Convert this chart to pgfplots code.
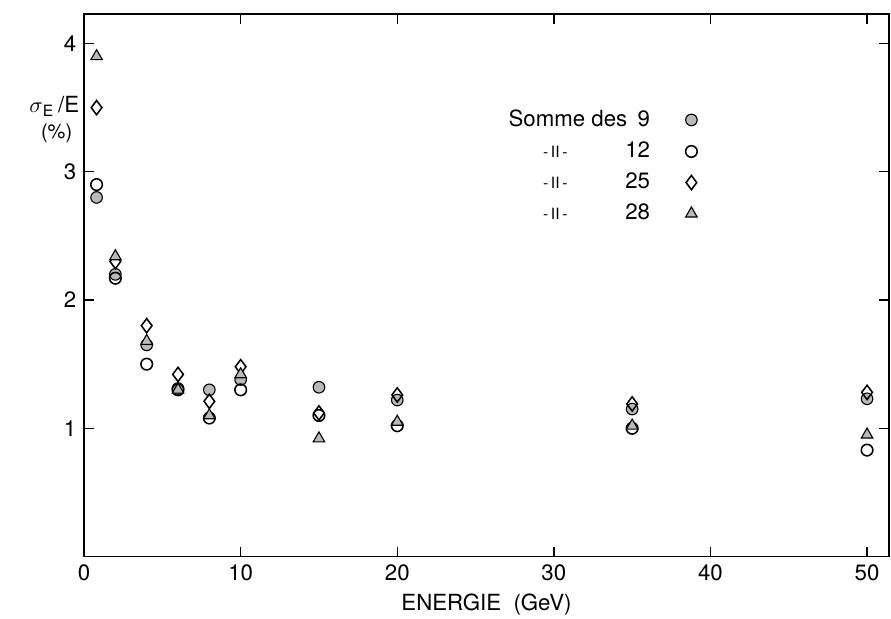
\documentclass[border=0pt]{standalone}
\usepackage{fontspec}
\setmainfont{TeX Gyre Heros}
\usepackage{pgfplots}
\pgfplotsset{compat=1.18}

% 1 px of the reference = 0.45pt
\begin{document}
\begin{tikzpicture}
\begin{axis}[
    name=ax,
    scale only axis,
    width=362pt, height=244pt,
    xmin=0, xmax=51.4,
    ymin=0, ymax=4.23,
    xtick={0,10,20,30,40,50},
    ytick={1,2,3,4},
    tick align=inside,
    major tick length=4.5pt,
    axis line style={line width=0.7pt},
    tick style={line width=0.6pt, black},
    /pgf/number format/assume math mode=true,
    tick label style={font=\fontsize{10}{12}\selectfont},
    xlabel={ENERGIE\ \ (GeV)},
    xlabel style={font=\fontsize{10}{12}\selectfont, yshift=1pt},
    clip=false,
    legend plot pos=right,
    legend cell align=right,
    legend style={draw=none, fill=none, font=\fontsize{10}{12}\selectfont,
        at={(axis cs:26.8,3.52)}, anchor=north west,
        row sep=1.4pt, inner sep=0pt},
]
\addplot[only marks, mark=*, mark size=2.6pt, mark options={draw=black, fill=gray!55, line width=0.5pt}]
  coordinates {(0.8,2.8) (2,2.2) (4,1.65) (6,1.31) (8,1.3) (10,1.38) (15,1.32) (20,1.22) (35,1.15) (50,1.23)};
\addplot[only marks, mark=o, mark size=2.6pt, mark options={draw=black, line width=0.7pt}]
  coordinates {(0.8,2.9) (2,2.17) (4,1.5) (6,1.3) (8,1.08) (10,1.3) (15,1.1) (20,1.02) (35,1.0) (50,0.83)};
\addplot[only marks, mark=diamond, mark size=3.2pt, mark options={draw=black, line width=0.7pt}]
  coordinates {(0.8,3.5) (2,2.3) (4,1.8) (6,1.42) (8,1.21) (10,1.48) (15,1.12) (20,1.26) (35,1.19) (50,1.28)};
\addplot[only marks, mark=triangle*, mark size=3pt, mark options={draw=black, fill=gray!55, line width=0.5pt}]
  coordinates {(0.8,3.9) (2,2.34) (4,1.68) (6,1.3) (8,1.1) (10,1.42) (15,0.92) (20,1.05) (35,1.02) (50,0.95)};
\legend{
  \makebox[42pt][l]{Somme des}\makebox[35.6pt][l]{\makebox[21.6pt][r]{9}},
  \makebox[42pt][c]{\scriptsize -\,II\,-}\makebox[35.6pt][l]{\makebox[21.6pt][r]{12}},
  \makebox[42pt][c]{\scriptsize -\,II\,-}\makebox[35.6pt][l]{\makebox[21.6pt][r]{25}},
  \makebox[42pt][c]{\scriptsize -\,II\,-}\makebox[35.6pt][l]{\makebox[21.6pt][r]{28}}}
\node[font=\fontsize{10}{12}\selectfont] at (axis cs:-1.9,3.51) {$\sigma$\textsubscript{E}\,/E};
\node[font=\fontsize{9}{11}\selectfont] at (axis cs:-1.75,3.3) {(\%)};
\end{axis}
\pgfresetboundingbox
\path (ax.south west) ++(-37.8pt,-27.9pt) coordinate (bl);
\path (ax.north east) ++(0.9pt,6.3pt) coordinate (tr);
\path (bl) rectangle (tr);
\end{tikzpicture}
\end{document}
